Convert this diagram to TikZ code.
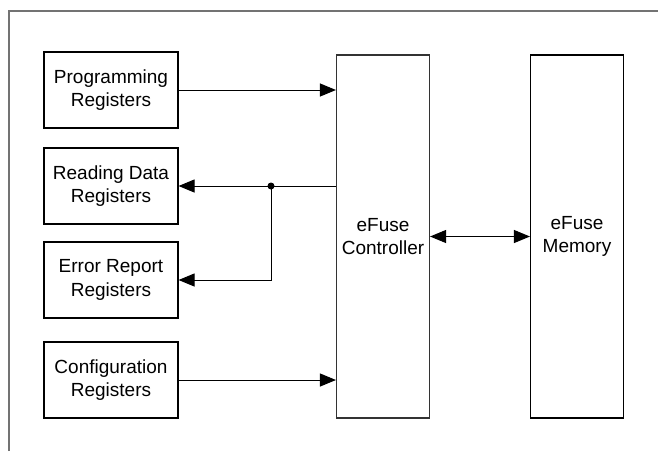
\documentclass[tikz,border=0pt]{standalone}
\usepackage{fontspec}
\setmainfont{Liberation Sans}
\usetikzlibrary{arrows.meta,positioning}

\tikzset{
  regbox/.style={draw=black,line width=1.1pt,minimum width=134pt,minimum height=76pt,
    align=center,inner sep=0pt,font=\fontsize{19}{23.5}\selectfont},
  tallbox/.style={draw=black!80,line width=1.1pt,minimum width=93pt,minimum height=363pt,
    align=center,inner sep=0pt,font=\fontsize{19}{23.5}\selectfont},
  link/.style={line width=1pt,-{Triangle[length=16pt,width=13pt]}},
  frameline/.style={draw=black!55,line width=2pt}
}

\begin{document}
\begin{tikzpicture}[x=1pt,y=-1pt]
  \useasboundingbox (0,0) rectangle (658,451);
  % open frame, top and left sides only
  \draw[frameline] (9,451) -- (9,10.5) -- (658,10.5);
  % register blocks on the left
  \node[regbox] (prog) at (111,90) {Programming\\Registers};
  \node[regbox] (read) at (111,186) {Reading Data\\Registers};
  \node[regbox] (err)  at (111,280) {Error Report\\Registers};
  \node[regbox] (conf) at (111,380) {Configuration\\Registers};
  % controller and memory
  \node[tallbox] (ctrl) at (383,236.5) {eFuse\\Controller};
  \node[tallbox,draw=black] (mem) at (577,236.5) {eFuse\\Memory};
  % connections
  \draw[link] (prog.east) -- (prog.east -| ctrl.west);
  \draw[link] (conf.east) -- (conf.east -| ctrl.west);
  \coordinate (tap) at (271,186);
  \draw[link] (read.east -| ctrl.west) -- (read.east);
  \draw[link] (tap) |- (err.east);
  \fill (tap) circle[radius=3.5pt];
  \draw[link,{Triangle[length=16pt,width=13pt]}-{Triangle[length=16pt,width=13pt]}]
    (ctrl.east) -- (mem.west);
\end{tikzpicture}
\end{document}
